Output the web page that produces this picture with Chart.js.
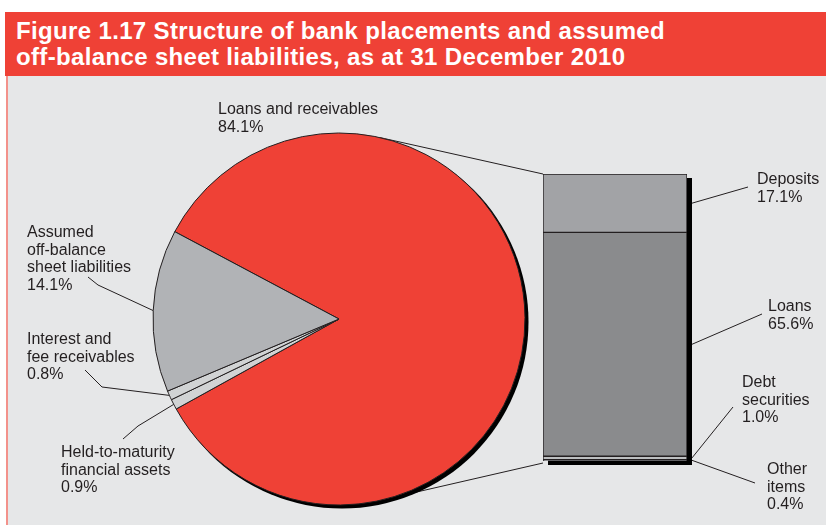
<!DOCTYPE html>
<html>
<head>
<meta charset="utf-8">
<script src="https://cdn.jsdelivr.net/npm/chart.js@4.4.0/dist/chart.umd.min.js"></script>
<style>
  html, body { margin: 0; padding: 0; background: #fff; }
  #wrap { position: relative; width: 826px; height: 525px; overflow: hidden; font-family: "Liberation Sans", Arial, sans-serif; }
  #head { position: absolute; left: 5px; top: 12px; width: 840px; height: 64px; background: #EF4136; }
  #head div { position: absolute; left: 11px; color: #fff; font-weight: bold; font-size: 24px; letter-spacing: 0.35px; line-height: 26px; white-space: nowrap; }
  #panel { position: absolute; left: 6px; top: 76px; width: 840px; height: 460px; background: #E6E7E8; border-left: 2px solid #F3928B; }
  canvas { position: absolute; left: 0; top: 0; }
</style>
</head>
<body>
<div id="wrap">
  <div id="head">
    <div style="top:6px">Figure 1.17 Structure of bank placements and assumed</div>
    <div style="top:32px">off-balance sheet liabilities, as at 31 December 2010</div>
  </div>
  <div id="panel"></div>
  <canvas id="pieCanvas" width="826" height="525"></canvas>
  <canvas id="barCanvas" width="826" height="525"></canvas>
</div>
<script>
// Pie: structure of bank placements (clockwise from the big slice)
const pieCategories = ['Loans and receivables', 'Held-to-maturity financial assets', 'Interest and fee receivables', 'Assumed off-balance sheet liabilities'];
const pieValues = [84.1, 0.9, 0.8, 14.1];
const pieLabelLines = [['Loans and receivables'], ['Held-to-maturity', 'financial assets'], ['Interest and', 'fee receivables'], ['Assumed', 'off-balance', 'sheet liabilities']];
const pieColors = ['#EF4136', '#D1D3D4', '#D1D3D4', '#B1B3B6'];

// Column: breakdown of loans and receivables (bottom to top)
const barCategories = ['Other items', 'Debt securities', 'Loans', 'Deposits'];
const barValues = [0.4, 1.0, 65.6, 17.1];
const barLabelLines = [['Other', 'items'], ['Debt', 'securities'], ['Loans'], ['Deposits']];
const barColors = ['#7E7F82', '#BCBEC0', '#8A8B8D', '#A2A3A6'];

const INK = '#231F20';
const FONT = '16px "Liberation Sans", Arial, sans-serif';
const LINE_H = 17.7;

// text anchor (x, first baseline) and leader bend points on the text side
const pieLabelPos = [
  { x: 218, y: 114, leader: null },
  { x: 61, y: 457, leader: [[123, 439], [138, 426]] },
  { x: 27, y: 344, leader: [[85, 370], [102, 387]] },
  { x: 27, y: 237, leader: [[88, 277], [98, 285]] }
];
const barLabelPos = [
  { x: 767, y: 474, leader: [[755, 483]] },
  { x: 742, y: 387, leader: [[733, 407]] },
  { x: 768, y: 311, leader: [[762, 314]] },
  { x: 757, y: 184, leader: [[748, 187]] }
];
const BAR_SHADOW = [5, 4];
const PIE_SHADOW = [3, 3];

function tangentPoint(cx, cy, r, px, py, side) {
  const d = Math.hypot(px - cx, py - cy);
  const a = Math.atan2(py - cy, px - cx) + side * Math.acos(r / d);
  return [cx + r * Math.cos(a), cy + r * Math.sin(a)];
}

function drawLabel(ctx, lines, pos) {
  ctx.fillStyle = INK;
  ctx.font = FONT;
  ctx.textBaseline = 'alphabetic';
  ctx.textAlign = 'left';
  lines.forEach((t, i) => ctx.fillText(t, pos.x, pos.y + i * LINE_H));
}

function drawLeader(ctx, pts) {
  ctx.beginPath();
  ctx.moveTo(pts[0][0], pts[0][1]);
  pts.slice(1).forEach(p => ctx.lineTo(p[0], p[1]));
  ctx.stroke();
}

// drop shadow behind the stacked column
const barShadow = {
  id: 'barShadow',
  beforeDatasetsDraw(chart) {
    const topEl = chart.getDatasetMeta(chart.data.datasets.length - 1).data[0];
    const baseEl = chart.getDatasetMeta(0).data[0];
    const ctx = chart.ctx;
    ctx.save();
    ctx.fillStyle = '#000';
    ctx.fillRect(topEl.x - topEl.width / 2 + BAR_SHADOW[0], topEl.y + BAR_SHADOW[1], topEl.width, baseEl.base - topEl.y);
    ctx.restore();
  }
};

const barChart = new Chart(document.getElementById('barCanvas'), {
  type: 'bar',
  data: {
    labels: ['Loans and receivables'],
    datasets: barCategories.map((name, i) => ({
      label: name,
      data: [barValues[i]],
      backgroundColor: barColors[i],
      borderColor: INK,
      borderWidth: 1,
      borderSkipped: false,
      barPercentage: 1,
      categoryPercentage: 1
    }))
  },
  options: {
    responsive: false,
    animation: false,
    events: [],
    layout: { padding: { left: 543, right: 139, top: 174, bottom: 64 } },
    plugins: { legend: { display: false }, tooltip: { enabled: false } },
    scales: {
      x: { stacked: true, display: false },
      y: { stacked: true, display: false, min: 0, max: 84.1 }
    }
  },
  plugins: [barShadow]
});

// connectors, pie shadow and all the labels
const pieDecor = {
  id: 'pieDecor',
  beforeDatasetsDraw(chart) {
    const ctx = chart.ctx;
    const arc = chart.getDatasetMeta(0).data[0];
    const topEl = barChart.getDatasetMeta(barCategories.length - 1).data[0];
    const baseEl = barChart.getDatasetMeta(0).data[0];
    const left = topEl.x - topEl.width / 2;
    ctx.save();
    ctx.strokeStyle = INK;
    ctx.lineWidth = 1;
    const t1 = tangentPoint(arc.x, arc.y, arc.outerRadius, left, topEl.y, -1);
    const t2 = tangentPoint(arc.x, arc.y, arc.outerRadius, left, baseEl.base + 2, 1);
    drawLeader(ctx, [[left, topEl.y], t1]);
    drawLeader(ctx, [[left, baseEl.base + 2], t2]);
    ctx.fillStyle = '#000';
    ctx.beginPath();
    ctx.arc(arc.x + PIE_SHADOW[0], arc.y + PIE_SHADOW[1], arc.outerRadius + 0.5, 0, Math.PI * 2);
    ctx.fill();
    ctx.restore();
  },
  afterDatasetsDraw(chart) {
    const ctx = chart.ctx;
    const arcs = chart.getDatasetMeta(0).data;
    ctx.save();
    ctx.strokeStyle = INK;
    ctx.lineWidth = 1;
    arcs.forEach((a, i) => {
      const pos = pieLabelPos[i];
      drawLabel(ctx, pieLabelLines[i].concat([pieValues[i].toFixed(1) + '%']), pos);
      if (pos.leader) {
        const mid = (a.startAngle + a.endAngle) / 2;
        const edge = [a.x + a.outerRadius * Math.cos(mid), a.y + a.outerRadius * Math.sin(mid)];
        drawLeader(ctx, pos.leader.concat([edge]));
      }
    });
    barCategories.forEach((name, i) => {
      const el = barChart.getDatasetMeta(i).data[0];
      const pos = barLabelPos[i];
      drawLabel(ctx, barLabelLines[i].concat([barValues[i].toFixed(1) + '%']), pos);
      const end = [el.x + el.width / 2 + BAR_SHADOW[0], (el.y + el.base) / 2];
      drawLeader(ctx, pos.leader.concat([end]));
    });
    ctx.restore();
  }
};

const pieChart = new Chart(document.getElementById('pieCanvas'), {
  type: 'pie',
  data: {
    labels: pieCategories,
    datasets: [{
      data: pieValues,
      backgroundColor: pieColors,
      borderColor: INK,
      borderWidth: 1,
      hoverOffset: 0,
      radius: 186
    }]
  },
  options: {
    responsive: false,
    animation: false,
    events: [],
    rotation: 298,
    layout: { padding: { left: 153, right: 301, top: 133, bottom: 20 } },
    plugins: { legend: { display: false }, tooltip: { enabled: false } }
  },
  plugins: [pieDecor]
});
</script>
</body>
</html>
